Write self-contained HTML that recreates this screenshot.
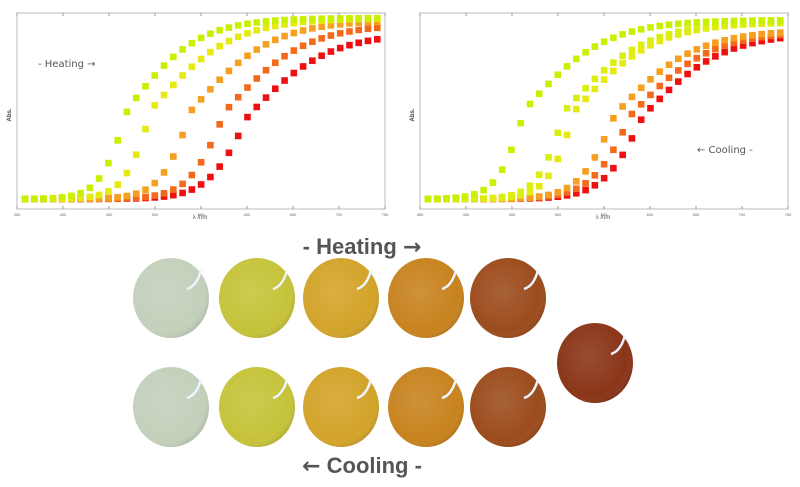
<!DOCTYPE html>
<html><head><meta charset="utf-8"><style>
html,body{margin:0;padding:0;background:#fff;width:800px;height:487px;overflow:hidden}
svg{display:block}
</style></head><body>
<svg id="s" width="800" height="487" xmlns="http://www.w3.org/2000/svg" font-family="Liberation Sans, sans-serif">
<defs>
<radialGradient id="sh" cx="0.42" cy="0.42" r="0.62">
<stop offset="0" stop-color="#fff" stop-opacity="0.12"/>
<stop offset="0.8" stop-color="#fff" stop-opacity="0"/>
<stop offset="1" stop-color="#000" stop-opacity="0.12"/>
</radialGradient>
</defs>
<g id="plots"></g>
<text x="362" y="254" text-anchor="middle" font-size="22" font-weight="bold" fill="#555">- Heating <tspan font-family="DejaVu Sans, sans-serif" font-size="22">→</tspan></text>
<text x="362" y="473" text-anchor="middle" font-size="22" font-weight="bold" fill="#555"><tspan font-family="DejaVu Sans, sans-serif" font-size="22">←</tspan> Cooling -</text>
<g id="balls"></g>
</svg>
<script>
var NS="http://www.w3.org/2000/svg";
function el(t,a,p){var e=document.createElementNS(NS,t);for(var k in a)e.setAttribute(k,a[k]);p.appendChild(e);return e;}
var P=document.getElementById('plots');
function plot(ox,series,label,lx,ly){
  el('rect',{x:ox+17,y:13,width:368,height:196,fill:'none',stroke:'#bbb','stroke-width':1},P);
  for(var i=0;i<=8;i++){var x=ox+17+i*46;el('line',{x1:x,y1:209,x2:x,y2:206,stroke:'#999'},P);el('line',{x1:x,y1:13,x2:x,y2:16,stroke:'#999'},P);
    var t=el('text',{x:x,y:216,'font-size':4,'text-anchor':'middle',fill:'#666'},P);t.textContent=[350,400,450,500,550,600,650,700,750][i];}
  var t=el('text',{x:ox+200,y:219,'font-size':6,'text-anchor':'middle',fill:'#555'},P);t.textContent='λ /nm';
  t=el('text',{x:ox+11,y:115,'font-size':6,'font-weight':'bold',fill:'#444',transform:'rotate(-90 '+(ox+11)+' 115)','text-anchor':'middle'},P);t.textContent='Abs.';
  t=el('text',{x:lx,y:ly,'font-size':10,fill:'#555','font-family':'DejaVu Sans, sans-serif'},P);t.textContent=label;
  series.forEach(function(s){
    for(var i=0;i<39;i++){var x=25+9.27*i;var d=x-s.m;var sc=d<0?s.a:s.b;var f=1/(1+Math.exp(-d/sc));var y=199-(199-s.t)*f;
      el('rect',{x:ox+x-3.3,y:y-3.3,width:6.6,height:6.6,fill:s.c},P);}
  });
}
plot(0,[
 {m:248,a:20,b:40,t:33,c:'#ee1010'},
 {m:225,a:18,b:40,t:24,c:'#f36a1c'},
 {m:192,a:16,b:40,t:20,c:'#f5a020'},
 {m:152,a:14,b:40,t:18,c:'#e6ea10'},
 {m:128,a:14,b:35,t:18,c:'#c8f000'}
],'- Heating →',38,67);
plot(403,[
 {m:240,a:20,b:40,t:33,c:'#ee1010'},
 {m:228,a:20,b:40,t:31,c:'#f36a1c'},
 {m:212,a:18,b:40,t:30,c:'#f5a020'},
 {m:172,a:14,b:40,t:22,c:'#e6ea10'},
 {m:162,a:14,b:40,t:22,c:'#dcee10'},
 {m:122,a:14,b:40,t:20,c:'#c8f000'}
],'← Cooling -',697,153);
var B=document.getElementById('balls');
var cols=['#c3d0bb','#c6c33a','#d3a42a','#c8831f','#9c4c1d'];
var xs=[171,257,341,426,508];
function ball(cx,cy,c){
  el('ellipse',{cx:cx,cy:cy,rx:38,ry:40,fill:c},B);
  el('ellipse',{cx:cx,cy:cy,rx:38,ry:40,fill:'url(#sh)'},B);
  el('path',{d:'M'+(cx+30)+' '+(cy-28)+' Q'+(cx+26)+' '+(cy-12)+' '+(cx+16)+' '+(cy-9),stroke:'#eef4ff','stroke-width':2.5,fill:'none'},B);
}
xs.forEach(function(x,i){ball(x,298,cols[i]);ball(x,407,cols[i]);});
ball(595,363,'#8a3518');
</script>
</body></html>
